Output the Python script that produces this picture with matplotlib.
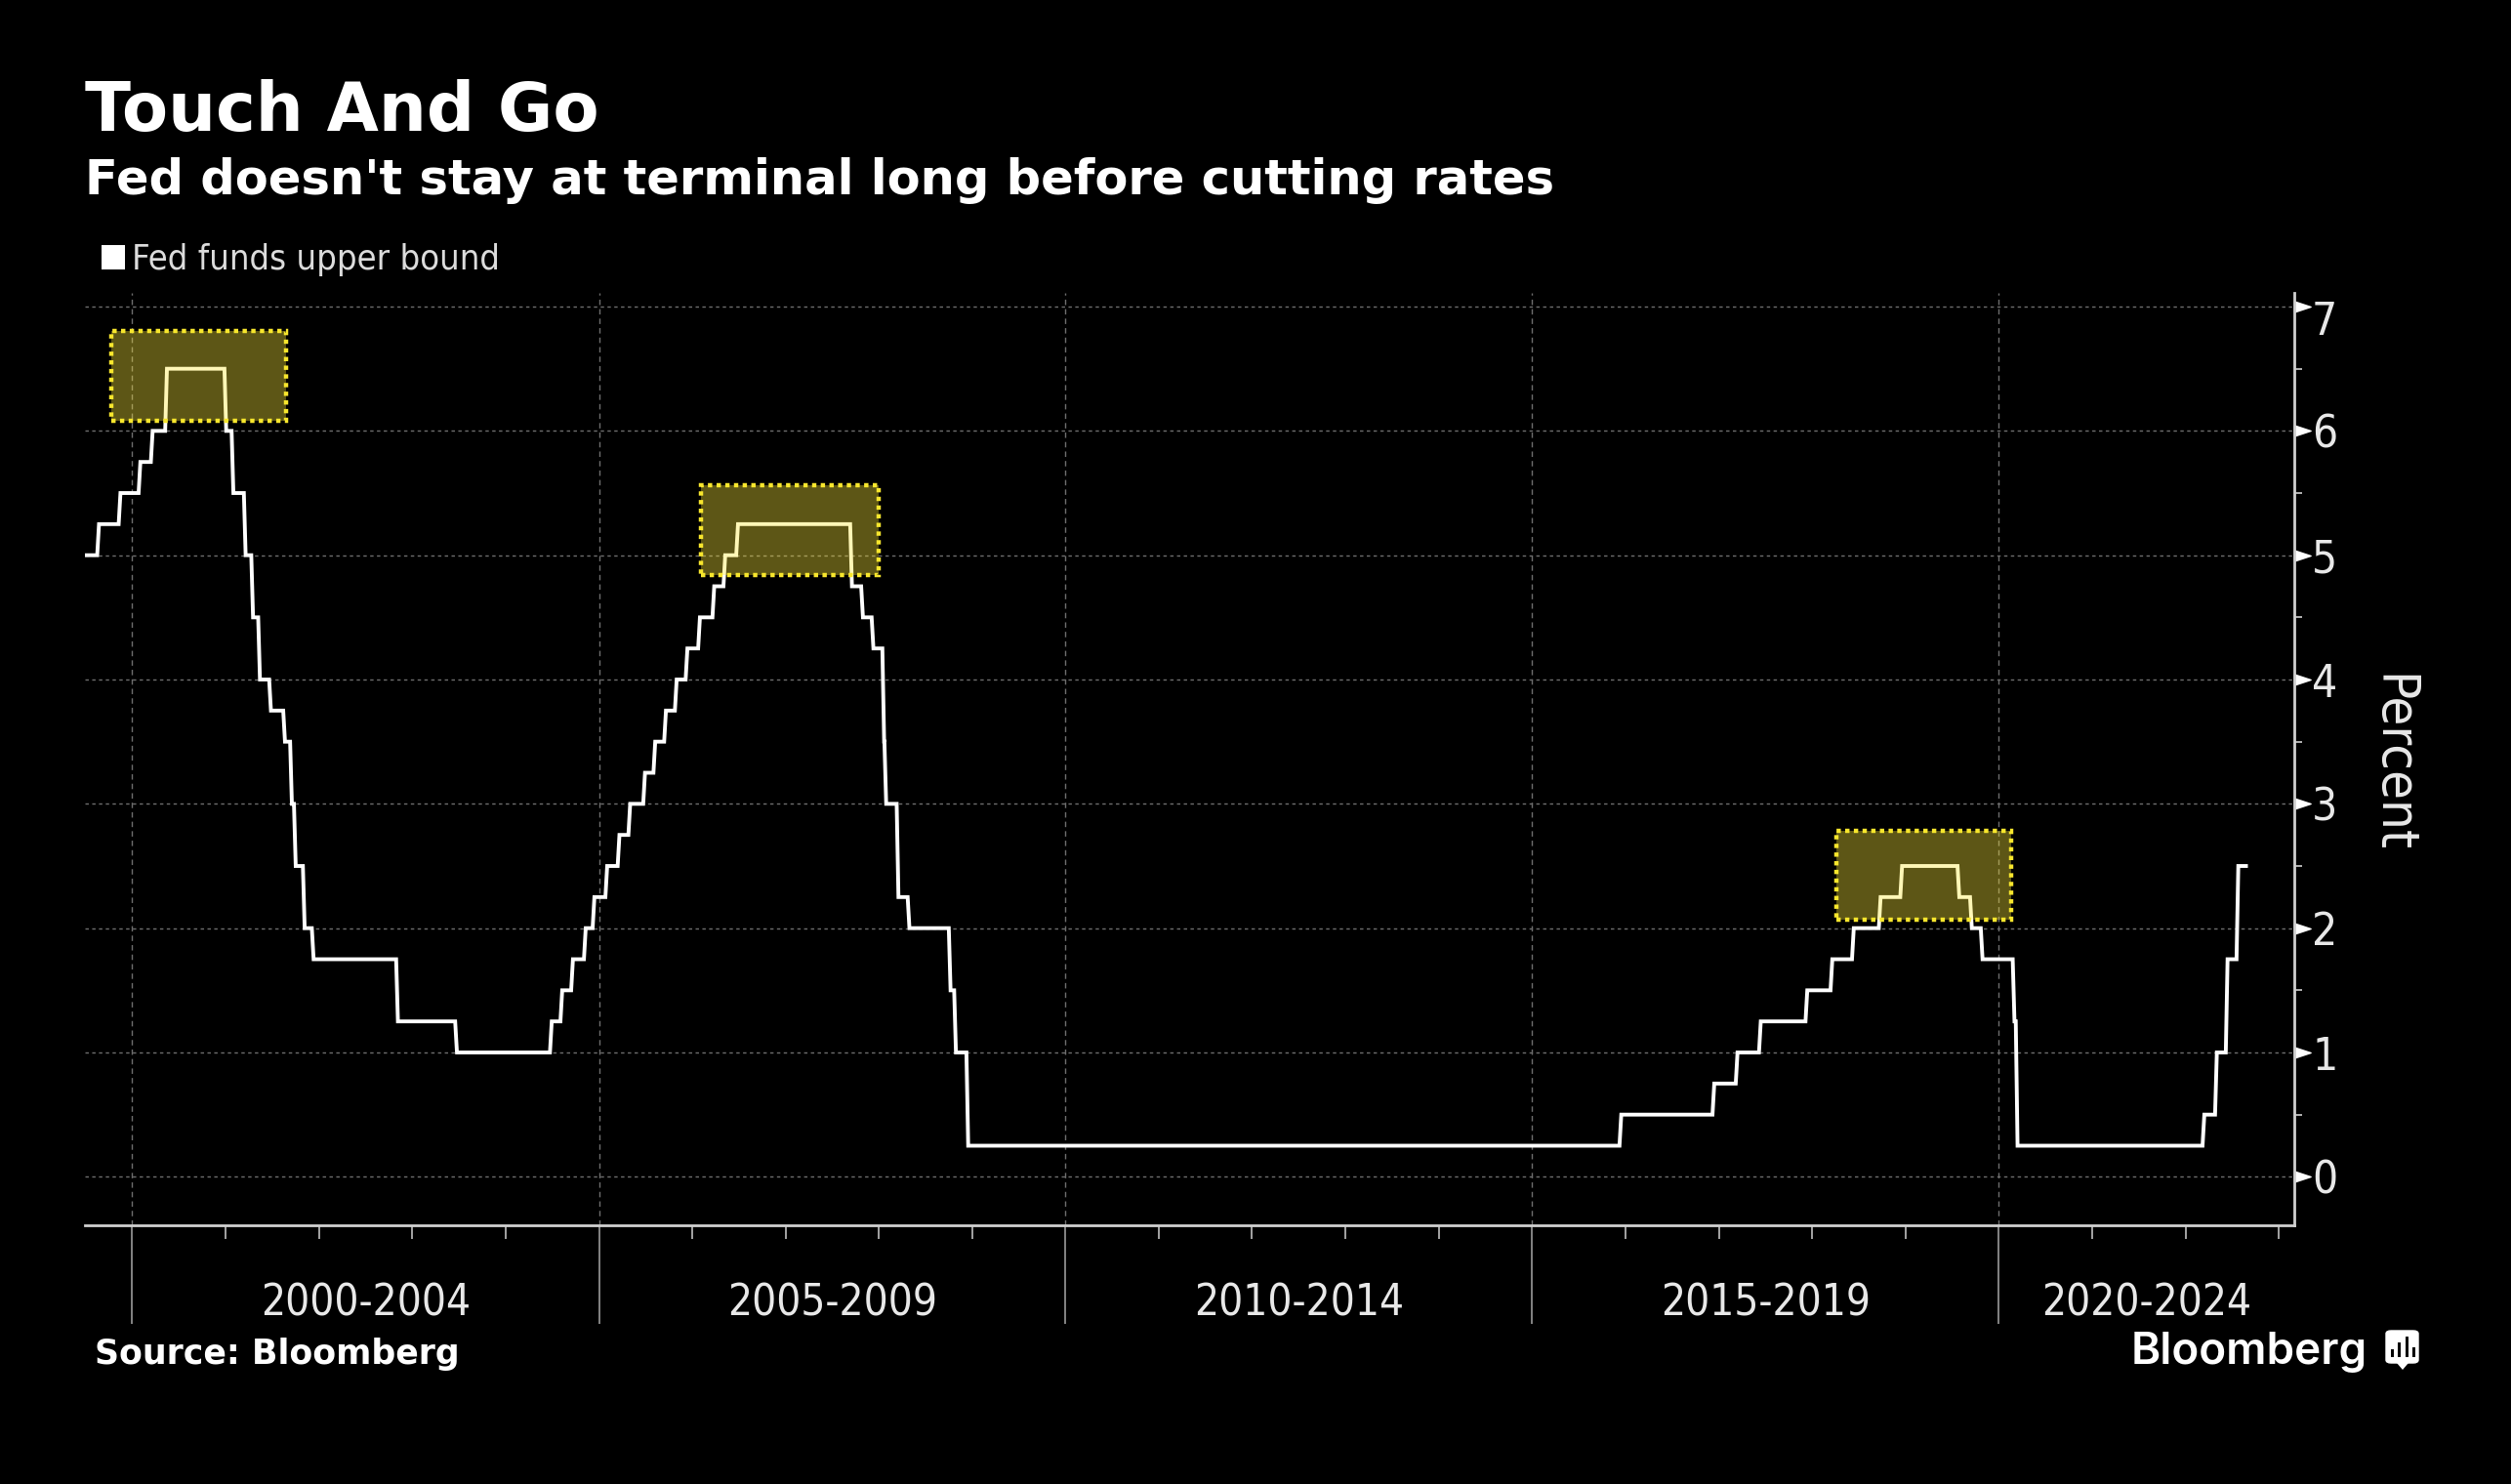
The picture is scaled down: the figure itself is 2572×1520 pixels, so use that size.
import matplotlib
matplotlib.use("Agg")
import matplotlib.pyplot as plt
import matplotlib.dates as mdates
from matplotlib.path import Path
from matplotlib.patches import Rectangle, FancyBboxPatch, Polygon
from matplotlib.transforms import blended_transform_factory, Affine2D
import numpy as np
import pandas as pd

# ---------- data ----------
change_dates = ["1999-06-30","1999-08-24","1999-11-16","2000-02-02","2000-03-21","2000-05-16",
    "2001-01-03","2001-01-31","2001-03-20","2001-04-18","2001-05-15","2001-06-27","2001-08-21",
    "2001-09-17","2001-10-02","2001-11-06","2001-12-11","2002-11-06","2003-06-25","2004-06-30",
    "2004-08-10","2004-09-21","2004-11-10","2004-12-14","2005-02-02","2005-03-22","2005-05-03",
    "2005-06-30","2005-08-09","2005-09-20","2005-11-01","2005-12-13","2006-01-31","2006-03-28",
    "2006-05-10","2006-06-29","2007-09-18","2007-10-31","2007-12-11","2008-01-22","2008-01-30",
    "2008-03-18","2008-04-30","2008-10-08","2008-10-29","2008-12-16","2015-12-16","2016-12-14",
    "2017-03-15","2017-06-14","2017-12-13","2018-03-21","2018-06-13","2018-09-26","2018-12-19",
    "2019-07-31","2019-09-18","2019-10-30","2020-03-03","2020-03-15","2022-03-16","2022-05-04",
    "2022-06-15","2022-07-27"]
upper_bound = [5.0,5.25,5.5,5.75,6.0,6.5,
    6.0,5.5,5.0,4.5,4.0,3.75,3.5,
    3.0,2.5,2.0,1.75,1.25,1.0,1.25,
    1.5,1.75,2.0,2.25,2.5,2.75,3.0,
    3.25,3.5,3.75,4.0,4.25,4.5,4.75,
    5.0,5.25,4.75,4.5,4.25,3.5,3.0,
    2.25,2.0,1.5,1.0,0.25,0.5,0.75,
    1.0,1.25,1.5,1.75,2.0,2.25,2.5,
    2.25,2.0,1.75,1.25,0.25,0.5,1.0,
    1.75,2.5]
last_date = "2022-08-26"

box_starts = ["1999-10-10","2006-02-05","2018-04-07"]
box_ends = ["2001-08-25","2007-12-30","2020-02-20"]
box_lows = [6.08,4.84,2.07]
box_highs = [6.80,5.56,2.78]

period_labels = ["2000-2004","2005-2009","2010-2014","2015-2019","2020-2024"]
period_starts = [2000,2005,2010,2015,2020]
y_major = [0,1,2,3,4,5,6,7]
y_minor = [0.5,1.5,2.5,3.5,4.5,5.5,6.5]
x_start = "1999-06-30"
x_end = "2023-03-03"

# ---------- layout ----------
W, H = 2572, 1520
DPI = 100
FONT = "DejaVu Sans"
plt.rcParams["font.family"] = [FONT]
fig = plt.figure(figsize=(W/DPI, H/DPI), dpi=DPI, facecolor="black")
L, R, T, B = 87, 2350, 300, 1255
ax = fig.add_axes([L/W, 1-B/H, (R-L)/W, (B-T)/H], facecolor="black")

def fx(x): return x/W
def fy(y): return 1-y/H

# ---------- line: weekly sampling makes risers slightly slanted ----------
d = pd.to_datetime(change_dates)
xs, ys = [d[0]], [upper_bound[0]]
for i in range(1, len(d)):
    xs += [d[i]-pd.Timedelta(days=7), d[i]]
    ys += [upper_bound[i-1], upper_bound[i]]
xs.append(pd.Timestamp(last_date)); ys.append(upper_bound[-1])
ax.plot(xs, ys, color="white", lw=2.8, solid_joinstyle="miter", zorder=3)

# ---------- highlight boxes ----------
for s, e, lo, hi in zip(box_starts, box_ends, box_lows, box_highs):
    x0, x1 = mdates.date2num(pd.Timestamp(s)), mdates.date2num(pd.Timestamp(e))
    ax.add_patch(Rectangle((x0, lo), x1-x0, hi-lo, facecolor="#ffeb3c", alpha=0.37, edgecolor="none", zorder=4))
    ax.add_patch(Rectangle((x0, lo), x1-x0, hi-lo, facecolor="none", edgecolor="#f7e62d", lw=3.2,
                           linestyle=(0, (1, 1)), zorder=5))

# ---------- axes ----------
ax.set_xlim(pd.Timestamp(x_start), pd.Timestamp(x_end))
ax.set_ylim(-0.39, 7.11)
for s in ["top", "left"]:
    ax.spines[s].set_visible(False)
ax.spines["bottom"].set_color("#d0d0d0"); ax.spines["bottom"].set_linewidth(2.0)
ax.spines["right"].set_color("#d0d0d0"); ax.spines["right"].set_linewidth(2.0)

ax.yaxis.tick_right()
ax.set_yticks(y_major)
ax.set_yticks(y_minor, minor=True)
ax.tick_params(axis="y", which="major", labelsize=33, labelcolor="#e8e8e8", pad=3,
               color="white", length=10, width=1)
ax.tick_params(axis="y", which="minor", color="#d0d0d0", length=6, width=1.2)
tri = Path([(0, -0.33), (1, 0), (0, 0.33), (0, -0.33)])
for t in ax.yaxis.get_major_ticks():
    t.tick2line.set_marker(tri)
    t.tick2line.set_markersize(24)
    t.tick2line.set_markerfacecolor("white")
    t.tick2line.set_markeredgecolor("white")
    t.label2.set_fontstretch("condensed")
top_label = ax.yaxis.get_major_ticks()[-1].label2
top_label.set_verticalalignment("top")
top_label.set_transform(top_label.get_transform() + Affine2D().translate(0, 6))

ax.set_xticks([pd.Timestamp(f"{y}-01-01") for y in period_starts])
ax.xaxis.set_minor_locator(mdates.YearLocator(1))
ax.set_xticklabels([])
ax.tick_params(axis="x", which="major", color="#a8a8a8", length=73, width=1.1)
ax.tick_params(axis="x", which="minor", color="#d0d0d0", length=10, width=1.1)
ax.grid(True, axis="y", which="major", color="#6e6e6e", lw=1.0, linestyle=(0, (2.5, 2.5)), zorder=1)
ax.grid(True, axis="x", which="major", color="#6e6e6e", lw=1.0, linestyle=(0, (4, 3)), zorder=1)

# period labels centred in their spans
trans = blended_transform_factory(ax.transData, fig.transFigure)
xmax_num = mdates.date2num(pd.Timestamp(x_end))
for i, (lab, st) in enumerate(zip(period_labels, period_starts)):
    a = mdates.date2num(pd.Timestamp(f"{st}-01-01"))
    b = mdates.date2num(pd.Timestamp(f"{st+5}-01-01")) if i < 4 else xmax_num
    ax.text((a+b)/2, fy(1348), lab, transform=trans, ha="center", va="baseline",
            fontsize=31.6, stretch="condensed", color="#e8e8e8", clip_on=False)

# ---------- text ----------
fig.text(fx(87), fy(134), "Touch And Go", color="white", fontsize=49.5, fontweight="bold", va="baseline")
fig.text(fx(87), fy(199), "Fed doesn't stay at terminal long before cutting rates", color="white",
         fontsize=35.75, fontweight="bold", va="baseline")
fig.patches.append(Rectangle((fx(104), fy(276)), 24/W, 25/H, transform=fig.transFigure, facecolor="white", edgecolor="none"))
fig.text(fx(135), fy(276), "Fed funds upper bound", color="#dcdcdc", fontsize=26, stretch="condensed", va="baseline")
fig.text(fx(2450), fy(782), "Percent", color="#e8e8e8", fontsize=39, rotation=270, ha="center", va="center", stretch="condensed")
fig.text(fx(97), fy(1397), "Source: Bloomberg", color="white", fontsize=25, fontweight="bold", va="baseline")
fig.text(fx(2183), fy(1397), "Bloomberg", color="white", fontsize=33, family="Inter", fontweight="semibold", va="baseline")

# Bloomberg icon
fig.patches.append(FancyBboxPatch((fx(2444), fy(1396)), 33/W, 33/H, boxstyle="round,pad=0,rounding_size=0.002",
                   transform=fig.transFigure, facecolor="white", edgecolor="white", lw=1))
fig.patches.append(Polygon([(fx(2455), fy(1396)), (fx(2467), fy(1396)), (fx(2461), fy(1403))],
                   closed=True, transform=fig.transFigure, facecolor="white", edgecolor="none"))
for bx, bh in zip([2449, 2456, 2464, 2471], [8, 15, 21, 10]):
    fig.patches.append(Rectangle((fx(bx), fy(1390)), 3/W, bh/H, transform=fig.transFigure, facecolor="black", edgecolor="none"))

fig.savefig("out.png", dpi=DPI, facecolor="black")
